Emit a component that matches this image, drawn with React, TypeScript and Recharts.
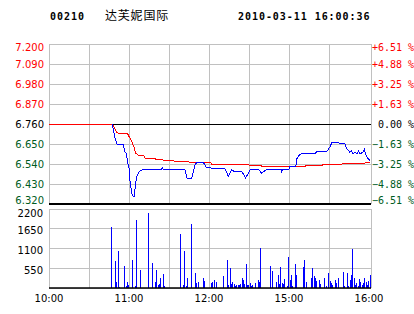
import React from 'react';
import {
  LineChart,
  Line,
  XAxis,
  YAxis,
  CartesianGrid,
  ReferenceLine,
  BarChart,
  Bar,
} from 'recharts';

// ---------- data ----------
const stockCode = '00210';
const stockName = '达芙妮国际';
const stampText = '2010-03-11 16:00:36';

const PREV_CLOSE = 6.76;
const SESSION_END = 241.5; // minutes of trading shown on the axis (10:00 .. 16:00+)

const priceTicks = [6.32, 6.43, 6.54, 6.65, 6.76, 6.87, 6.98, 7.09, 7.2];
const volTicks = [0, 550, 1100, 1650, 2200];
const timeTicks = [0, 60, 120, 180, 240];
const timeLabels = ['10:00', '11:00', '12:00', '15:00', '16:00'];
const gridMinutes = [0, 30, 60, 90, 120, 150, 180, 210, SESSION_END];

// last price (blue), minute index from 10:00
const priceMinutes = [
  47.5, 49, 50, 51, 56, 56.5, 58, 59, 60, 61, 62.5, 64, 64.5, 65.5, 67, 68.5, 70,
  84, 85, 86, 102, 103.5, 107, 109.5, 111, 115.5, 117, 118, 124.5, 132, 134.5,
  137, 139.5, 141, 144.5, 147.5, 151, 157, 159.5, 163, 174, 174.5, 175.5, 180,
  180.5, 185, 186, 188, 190.5, 200, 201, 208.5, 211, 212, 214.5, 216.5, 218, 222,
  223, 225.5, 227, 228, 229.5, 231, 232, 233, 235.5, 236.5, 238, 239, 241,
];
const priceValues = [
  6.76, 6.7, 6.67, 6.65, 6.65, 6.61, 6.6, 6.55, 6.518, 6.426, 6.366, 6.362, 6.4,
  6.463, 6.49, 6.503, 6.509, 6.509, 6.52, 6.509, 6.509, 6.461, 6.461, 6.535,
  6.55, 6.55, 6.535, 6.522, 6.514, 6.514, 6.472, 6.507, 6.497, 6.5, 6.5, 6.463,
  6.51, 6.511, 6.49, 6.509, 6.511, 6.498, 6.511, 6.511, 6.525, 6.525, 6.571,
  6.591, 6.6, 6.6, 6.61, 6.61, 6.637, 6.656, 6.661, 6.66, 6.652, 6.652, 6.628,
  6.606, 6.612, 6.594, 6.606, 6.594, 6.612, 6.596, 6.604, 6.62, 6.582, 6.573,
  6.556,
];

// average price (red)
const avgMinutes = [
  0, 47.5, 51, 59, 60, 62, 64, 65, 67, 71, 72, 79, 80, 85, 86, 93, 94, 104, 105,
  121, 122, 149, 150, 159, 160, 192, 193, 205, 206, 220, 221, 237, 238, 241,
];
const avgValues = [
  6.76, 6.76, 6.711, 6.705, 6.692, 6.665, 6.628, 6.6, 6.588, 6.588, 6.573,
  6.573, 6.566, 6.566, 6.56, 6.56, 6.555, 6.555, 6.55, 6.55, 6.54, 6.54, 6.533,
  6.533, 6.525, 6.527, 6.533, 6.533, 6.54, 6.54, 6.545, 6.545, 6.551, 6.551,
];

// volume per minute
const volMinutes = [
  47, 50, 51, 52, 53, 57, 58, 59, 60, 63, 65, 66, 69, 75, 78, 80, 81, 82, 83, 84,
  86, 87, 99, 101, 102, 103, 104, 107, 110, 111, 112, 116, 117, 122, 123, 124,
  126, 131, 134, 135, 136, 137, 138, 139, 140, 141, 142, 143, 144, 145, 146,
  147, 148, 149, 150, 151, 152, 153, 155, 157, 158, 159, 166, 168, 171, 172,
  173, 174, 175, 176, 177, 179, 180, 181, 182, 183, 185, 186, 191, 192, 193,
  197, 198, 199, 200, 201, 203, 204, 207, 208, 210, 211, 212, 213, 215, 216,
  217, 221, 222, 224, 225, 226, 227, 228, 229, 230, 231, 232, 233, 234, 235,
  236, 237, 238, 239, 240, 241,
];
const volValues = [
  1698, 752, 158, 1030, 37, 612, 56, 167, 84, 780, 56, 1902, 501, 2088, 696, 167,
  501, 93, 111, 288, 390, 56, 1503, 84, 1030, 56, 278, 1782, 418, 139, 167, 278,
  195, 139, 167, 223, 167, 334, 780, 84, 557, 111, 167, 111, 56, 84, 84, 84, 111,
  278, 223, 111, 668, 84, 84, 139, 56, 84, 139, 223, 167, 1114, 612, 473, 167,
  362, 111, 585, 139, 111, 250, 56, 863, 223, 362, 56, 668, 362, 585, 780, 167,
  278, 557, 334, 278, 195, 223, 111, 278, 56, 418, 195, 139, 84, 223, 139, 278,
  445, 56, 418, 56, 223, 362, 1086, 278, 84, 139, 56, 250, 167, 84, 139, 278,
  167, 84, 195, 362,
];

// ---------- derived tables ----------
const priceData = priceMinutes.map((m, i) => ({ m, p: priceValues[i] }));
const avgData = avgMinutes.map((m, i) => ({ m, p: avgValues[i] }));
const volData = volMinutes.map((m, i) => ({ m, v: volValues[i] }));

// ---------- style ----------
const RED = '#ff0000';
const GREEN = '#005c22';
const GRID = '#c0c0c0';
const AXIS_FONT = '"DejaVu Sans", Verdana, sans-serif';
const MONO_FONT = '"DejaVu Sans Mono", monospace';

const sideColor = (v: number) =>
  Math.abs(v - PREV_CLOSE) < 1e-6 ? '#000000' : v > PREV_CLOSE ? RED : GREEN;

const edgeShift = (v: number, lo: number, hi: number) =>
  Math.abs(v - hi) < 1e-6 ? 3 : Math.abs(v - lo) < 1e-6 ? -4 : 0;

const LeftPriceTick = (props: any) => {
  const { x, y, payload } = props;
  const v = Number(payload.value);
  const dy = edgeShift(v, priceTicks[0], priceTicks[priceTicks.length - 1]) + 3.6;
  return (
    <text x={x} y={y + dy} textAnchor="end" fontFamily={AXIS_FONT} fontSize={10} fill={sideColor(v)}>
      {v.toFixed(3)}
    </text>
  );
};

const RightPctTick = (props: any) => {
  const { x, y, payload } = props;
  const v = Number(payload.value);
  const pct = ((v - PREV_CLOSE) / PREV_CLOSE) * 100;
  const txt = Math.abs(pct) < 0.005
    ? '\u00A00.00 %'
    : (pct > 0 ? '+' : '\u2212') + Math.abs(pct).toFixed(2) + ' %';
  const dy = edgeShift(v, priceTicks[0], priceTicks[priceTicks.length - 1]) + 3.6;
  return (
    <text x={x} y={y + dy} textAnchor="start" fontFamily={MONO_FONT} fontSize={10} fill={sideColor(v)}>
      {txt}
    </text>
  );
};

const VolTick = (props: any) => {
  const { x, y, payload } = props;
  const v = Number(payload.value);
  if (v === 0) return null;
  const dy = (v === volTicks[volTicks.length - 1] ? 4 : 2) + 3.6;
  return (
    <text x={x} y={y + dy} textAnchor="end" fontFamily={AXIS_FONT} fontSize={10} fill="#000000">
      {String(v)}
    </text>
  );
};

const TimeTick = (props: any) => {
  const { x, y, payload } = props;
  const idx = timeTicks.indexOf(Number(payload.value));
  if (idx < 0) return null;
  return (
    <text x={x} y={y + 14} textAnchor="middle" fontFamily={AXIS_FONT} fontSize={10} fill="#000000">
      {timeLabels[idx]}
    </text>
  );
};

export default function App() {
  return (
    <div style={{ position: 'absolute', left: 0, top: 0, width: 414, height: 314, background: '#ffffff' }}>
      <svg width={414} height={30} style={{ position: 'absolute', left: 0, top: 0 }}>
        <text x={50} y={20} fontFamily={MONO_FONT} fontWeight="bold" fontSize={10} letterSpacing={0.95} fill="#000">
          {stockCode}
        </text>
        <text x={105} y={19.5} fontFamily='"Noto Sans CJK SC", sans-serif' fontSize={12} letterSpacing={0.8} fill="#000">
          {stockName}
        </text>
        <text x={238} y={20} fontFamily={MONO_FONT} fontWeight="bold" fontSize={10} letterSpacing={0.95} fill="#000">
          {stampText}
        </text>
      </svg>

      <div style={{ position: 'absolute', left: 0, top: 0 }}>
        <LineChart width={414} height={206} margin={{ top: 44, right: 0, bottom: 2, left: 0 }}>
          <CartesianGrid vertical={false} stroke={GRID} strokeDasharray="" shapeRendering="crispEdges" />
          <XAxis
            dataKey="m"
            type="number"
            domain={[0, SESSION_END]}
            allowDataOverflow
            hide
          />
          <YAxis
            yAxisId={0}
            type="number"
            domain={[priceTicks[0], priceTicks[priceTicks.length - 1]]}
            allowDataOverflow
            ticks={priceTicks}
            interval={0}
            width={49}
            axisLine={false}
            tickLine={false}
            tickSize={0}
            tickMargin={5}
            tick={<LeftPriceTick />}
          />
          <YAxis
            yAxisId="r"
            orientation="right"
            type="number"
            domain={[priceTicks[0], priceTicks[priceTicks.length - 1]]}
            allowDataOverflow
            ticks={priceTicks}
            interval={0}
            width={43}
            axisLine={false}
            tickLine={false}
            tickSize={0}
            tickMargin={1}
            tick={<RightPctTick />}
          />
          {gridMinutes.map((gm) => (
            <ReferenceLine key={'vx' + gm} x={gm} stroke={GRID} shapeRendering="crispEdges" zIndex={-60} />
          ))}
          <ReferenceLine y={PREV_CLOSE} stroke="#000000" shapeRendering="crispEdges" zIndex={-50} />
          <ReferenceLine y={priceTicks[0]} stroke="#000000" strokeWidth={1.5} shapeRendering="crispEdges" zIndex={-50} />
          <Line
            data={avgData}
            dataKey="p"
            type="linear"
            stroke={RED}
            strokeWidth={1}
            dot={false}
            activeDot={false}
            isAnimationActive={false}
            shapeRendering="crispEdges"
          />
          <Line
            data={priceData}
            dataKey="p"
            type="linear"
            stroke="#0000ff"
            strokeWidth={1}
            dot={false}
            activeDot={false}
            isAnimationActive={false}
            shapeRendering="crispEdges"
          />
        </LineChart>
      </div>

      <div style={{ position: 'absolute', left: 0, top: 200 }}>
        <BarChart width={414} height={114} data={volData} margin={{ top: 9, right: 43, bottom: 0, left: 0 }}>
          <CartesianGrid vertical={false} stroke={GRID} strokeDasharray="" shapeRendering="crispEdges" />
          <XAxis
            dataKey="m"
            type="number"
            domain={[0, SESSION_END]}
            allowDataOverflow
            ticks={timeTicks}
            interval={0}
            height={26}
            axisLine={{ stroke: '#000000', strokeWidth: 1.5 }}
            tickLine={false}
            tickSize={0}
            tickMargin={0}
            tick={<TimeTick />}
          />
          <YAxis
            type="number"
            domain={[volTicks[0], volTicks[volTicks.length - 1]]}
            allowDataOverflow
            ticks={volTicks}
            interval={0}
            width={49}
            axisLine={false}
            tickLine={false}
            tickSize={0}
            tickMargin={6}
            tick={<VolTick />}
          />
          {gridMinutes.map((gm) => (
            <ReferenceLine key={'vv' + gm} x={gm} stroke={GRID} shapeRendering="crispEdges" zIndex={-60} />
          ))}
          <Bar dataKey="v" fill="#0000ff" barSize={1} isAnimationActive={false} shapeRendering="crispEdges" />
        </BarChart>
      </div>
    </div>
  );
}
